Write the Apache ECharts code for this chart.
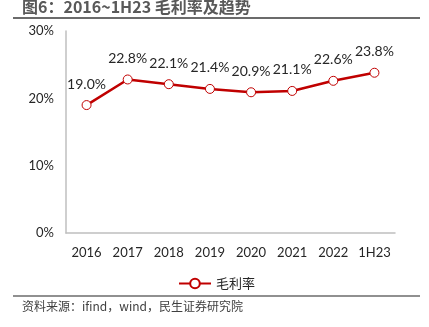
<!DOCTYPE html>
<html><head><meta charset="utf-8">
<script src="https://cdn.jsdelivr.net/npm/echarts@6/dist/echarts.min.js"></script>
<style>html,body{margin:0;padding:0;background:#fff}#c{width:429px;height:327px}</style>
</head><body><div id="c"></div>
<script>
const categories = ['2016','2017','2018','2019','2020','2021','2022','1H23'];
const grossMargin = [19.0, 22.8, 22.1, 21.4, 20.9, 21.1, 22.6, 23.8];
const yTicks = [0, 10, 20, 30];
const titleText = '图6：2016~1H23 毛利率及趋势';
const sourceText = '资料来源：ifind，wind，民生证券研究院';
const seriesName = '毛利率';

const chart = echarts.init(document.getElementById('c'));
chart.setOption({
  animation: false,
  grid: {left: 66, right: 34, top: 31, bottom: 94},
  xAxis: {
    type: 'category', data: categories, boundaryGap: true,
    axisLine: {lineStyle: {color: '#bfbfbf', width: 1.5}},
    axisTick: {show: false},
    axisLabel: {interval: 0, color: '#262626', fontSize: 13, fontFamily: 'Lato', margin: 13}
  },
  yAxis: {
    type: 'value', min: yTicks[0], max: yTicks[yTicks.length-1], interval: 10,
    axisLine: {show: true, lineStyle: {color: '#bfbfbf', width: 1.5}},
    axisTick: {show: false},
    splitLine: {show: false},
    axisLabel: {color: '#262626', fontSize: 13, fontFamily: 'Lato', margin: 12, formatter: v => v + '%'}
  },
  legend: {
    left: 173, top: 272, itemWidth: 32, itemHeight: 12, itemGap: 4,
    textStyle: {color: '#262626', fontSize: 13, fontFamily: 'Noto Sans CJK SC'},
    data: [seriesName]
  },
  series: [{
    name: seriesName, type: 'line', data: grossMargin,
    lineStyle: {color: '#c00000', width: 2.5},
    itemStyle: {color: '#fff', borderColor: '#c00000', borderWidth: 1},
    symbol: 'circle', symbolSize: 9,
    label: {show: true, position: 'top', distance: 9, color: '#262626', fontSize: 14, fontFamily: 'Lato', formatter: p => p.value.toFixed(1) + '%'}
  }],
  graphic: [
    {type: 'text', left: 22, top: -1, style: {text: titleText, fill: '#595959', font: 'bold 16px "Noto Sans CJK SC"'}},
    {type: 'line', shape: {x1: 13, y1: 18, x2: 420, y2: 18}, style: {stroke: '#6b6b6b', lineWidth: 2}},
    {type: 'line', shape: {x1: 13, y1: 296, x2: 420, y2: 296}, style: {stroke: '#6b6b6b', lineWidth: 1.5}},
    {type: 'text', left: 22, top: 300, style: {text: sourceText, fill: '#404040', font: '12px "Noto Sans CJK SC"'}}
  ]
});
</script></body></html>
